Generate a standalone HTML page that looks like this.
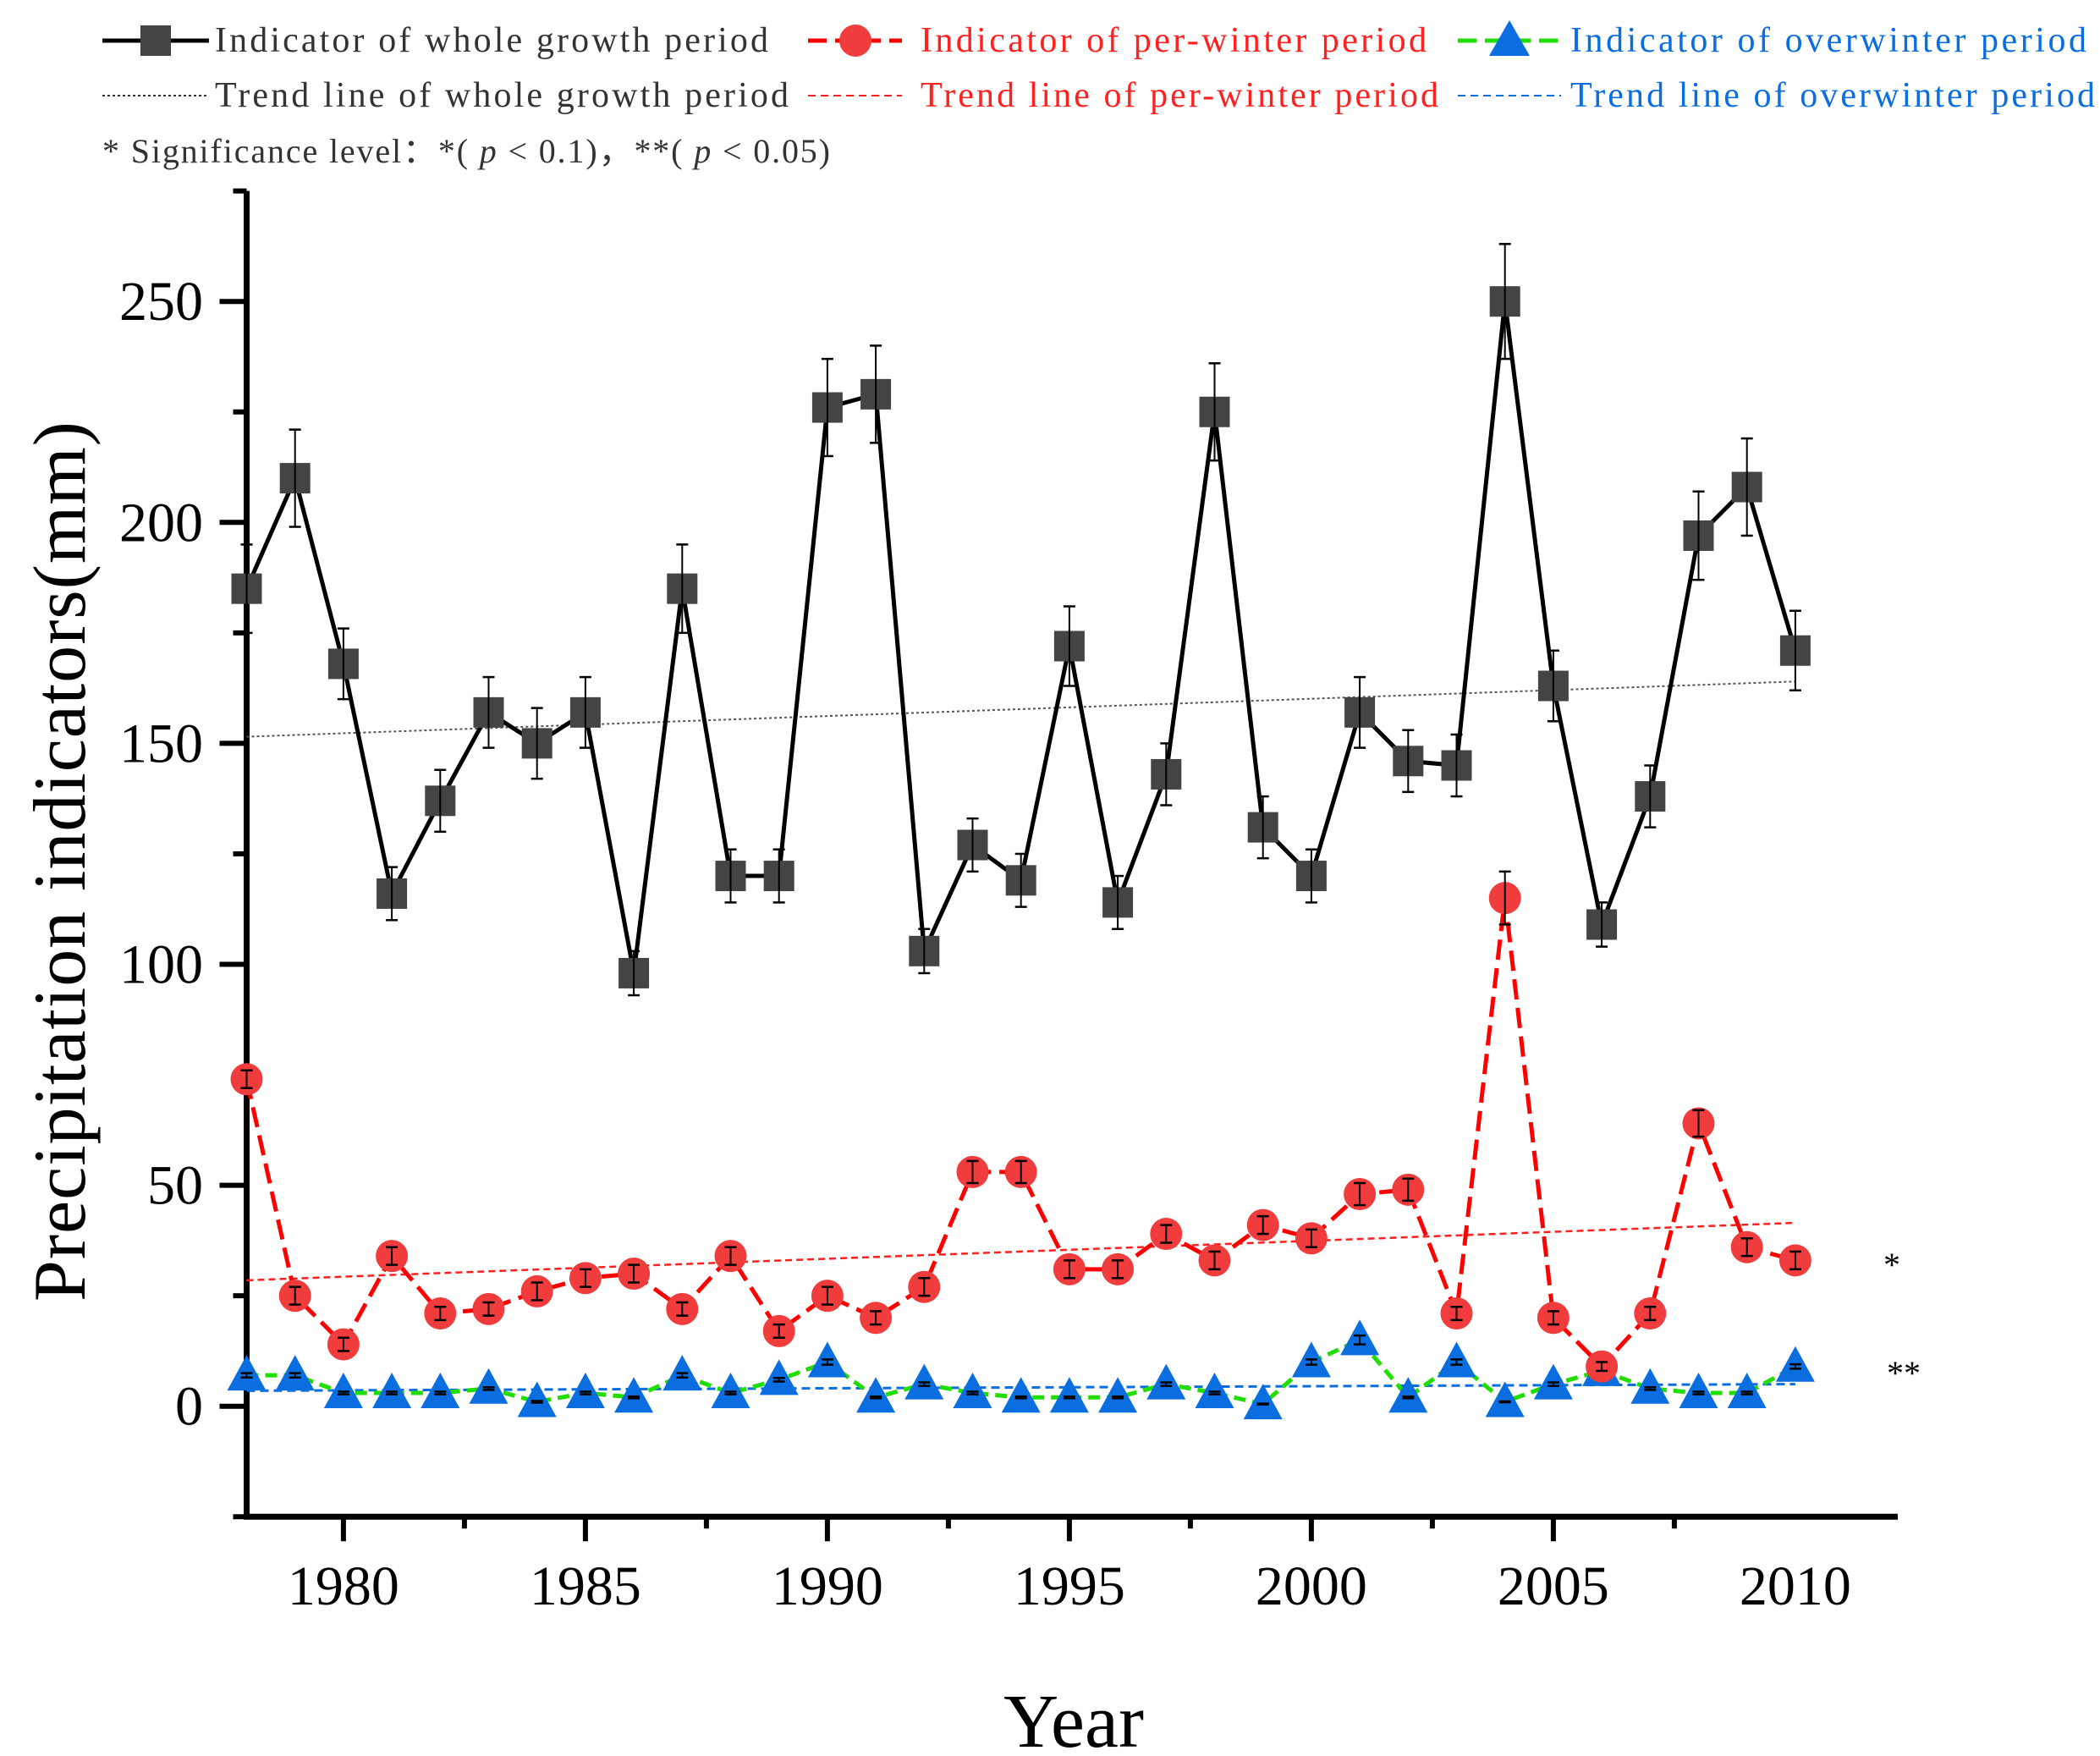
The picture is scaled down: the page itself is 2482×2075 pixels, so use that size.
<!DOCTYPE html>
<html><head><meta charset="utf-8"><style>
html,body{margin:0;padding:0;background:#fff}
svg{display:block;font-family:"Liberation Serif",serif}
</style></head><body>
<svg id="chart" width="2482" height="2075" viewBox="0 0 2482 2075" xmlns="http://www.w3.org/2000/svg">
<g id="legend">
 <g>
  <line x1="121" y1="48" x2="247" y2="48" stroke="#000" stroke-width="5"/>
  <rect x="166" y="30" width="36" height="36" fill="#444"/>
  <text x="254" y="61" font-size="42" fill="#333" textLength="654">Indicator of whole growth period</text>
 </g>
 <g>
  <line x1="955" y1="48" x2="1066" y2="48" stroke="#ff0000" stroke-width="5" stroke-dasharray="22,10"/>
  <circle cx="1011" cy="48" r="19" fill="#f03c3c"/>
  <text x="1088" y="61" font-size="42" fill="#ff2020" textLength="598">Indicator of  per-winter period</text>
 </g>
 <g>
  <line x1="1723" y1="48" x2="1845" y2="48" stroke="#22dd00" stroke-width="5" stroke-dasharray="22,10"/>
  <polygon points="1784,24 1808,66 1760,66" fill="#0a6ee0"/>
  <text x="1856" y="61" font-size="42" fill="#0a6ee0" textLength="610">Indicator of  overwinter period</text>
 </g>
 <g>
  <line x1="121" y1="113" x2="247" y2="113" stroke="#333" stroke-width="2" stroke-dasharray="3,3"/>
  <text x="254" y="126" font-size="42" fill="#333" textLength="678">Trend line of whole growth period</text>
 </g>
 <g>
  <line x1="955" y1="113" x2="1066" y2="113" stroke="#ff2020" stroke-width="2" stroke-dasharray="9,6"/>
  <text x="1088" y="126" font-size="42" fill="#ff2020" textLength="612">Trend line of per-winter period</text>
 </g>
 <g>
  <line x1="1723" y1="113" x2="1845" y2="113" stroke="#0a6ee0" stroke-width="2" stroke-dasharray="9,6"/>
  <text x="1856" y="126" font-size="42" fill="#0a6ee0" textLength="620">Trend line of overwinter period</text>
 </g>
 <text x="121" y="192" font-size="40" fill="#333" textLength="860">* Significance level：*( <tspan font-style="italic">p</tspan> &lt; 0.1)，**( <tspan font-style="italic">p</tspan> &lt; 0.05)</text>
</g>
<g id="plot"></g>
<text transform="translate(100,1018) rotate(-90)" text-anchor="middle" font-size="88" fill="#000" textLength="1040">Precipitation indicators(mm)</text>
<text x="1269" y="2064" text-anchor="middle" font-size="90" fill="#000">Year</text>
<text x="2236" y="1508" text-anchor="middle" font-size="40" fill="#000">*</text>
<text x="2250" y="1636" text-anchor="middle" font-size="40" fill="#000">**</text>
</svg>
<script>
const years = [1978,1979,1980,1981,1982,1983,1984,1985,1986,1987,1988,1989,1990,1991,1992,1993,1994,1995,1996,1997,1998,1999,2000,2001,2002,2003,2004,2005,2006,2007,2008,2009,2010];
const wholeValues = [185,210,168,116,137,157,150,157,98,185,120,120,226,229,103,127,119,172,114,143,225,131,120,157,146,145,250,163,109,138,197,208,171];
const wholeErrors = [10,11,8,6,7,8,8,8,5,10,6,6,11,11,5,6,6,9,6,7,11,7,6,8,7,7,13,8,5,7,10,11,9];
const perWinterValues = [74,25,14,34,21,22,26,29,30,22,34,17,25,20,27,53,53,31,31,39,33,41,38,48,49,21,115,20,9,21,64,36,33];
const perWinterErrors = [2,2,1.5,2,1.5,1.5,2,2,2,1.5,2,1.5,2,1.5,2,2.5,2.5,2,2,2,2,2,2,2.5,2.5,1.5,6,1.5,1,1.5,3,2,2];
const overValues = [7,7,3,3,3,4,1,3,2,7,3,6,10,2,5,3,2,2,2,5,3,0.5,10,15,2,10,1,5,8,4,3,3,9];
const overErrors = [0.5,0.5,0.3,0.3,0.3,0.3,0.2,0.3,0.2,0.5,0.3,0.4,0.6,0.2,0.4,0.3,0.2,0.2,0.2,0.4,0.3,0.1,0.6,1,0.2,0.6,0.1,0.4,0.5,0.3,0.3,0.3,0.5];
const trendWhole = [151.5,164];
const trendPerWinter = [28.5,41.5];
const trendOver = [3.5,5];
const yTicks = [0,50,100,150,200,250];
const xTicks = [1980,1985,1990,1995,2000,2005,2010];

const NS='http://www.w3.org/2000/svg';
const X0=291.5, Y0=1661.7, PX=57.2, PY=261.1/50;
const xs = v => X0 + (v-1978)*PX;
const ys = v => Y0 - v*PY;
const plot=document.getElementById('plot');
function mk(tag, attrs, parent){const e=document.createElementNS(NS,tag);for(const k in attrs)e.setAttribute(k,attrs[k]);(parent||plot).appendChild(e);return e;}

let ax=mk('line',{x1:X0,y1:ys(275),x2:X0,y2:ys(-25)+3,stroke:'#000','stroke-width':7});


let bx=mk('line',{x1:X0-3.5,y1:ys(-25),x2:2243,y2:ys(-25),stroke:'#000','stroke-width':7});


for(let v=-25; v<=275; v+=25){
  const maj = v%50===0;
  mk('line',{x1:X0-(maj?32:16),y1:ys(v),x2:X0,y2:ys(v),stroke:'#000','stroke-width':6});
}
yTicks.forEach(v=>{
  const t=mk('text',{x:240,y:ys(v)+22,'text-anchor':'end','font-size':66,fill:'#000'});
  t.textContent=v;
  
  
});
for(let h=0; h<=12; h++){
  const yr=1977.5+h*2.5;
  if(yr<1978) continue;
  const maj = Math.abs(yr%5)<1e-6;
  mk('line',{x1:xs(yr),y1:ys(-25),x2:xs(yr),y2:ys(-25)+(maj?29:14),stroke:'#000','stroke-width':6});
}
xTicks.forEach(v=>{
  const t=mk('text',{x:xs(v),y:1896,'text-anchor':'middle','font-size':66,fill:'#000'});
  t.textContent=v;
  
  
});

function trend(tv,color,dash,w,name){
  const l=mk('line',{x1:xs(years[0]),y1:ys(tv[0]),x2:xs(years[years.length-1]),y2:ys(tv[1]),stroke:color,'stroke-width':w,'stroke-dasharray':dash});
  
  
}
trend(trendWhole,'#555','3,3',2,'trend-line-whole');
trend(trendPerWinter,'#ff2020','8,5',2.5,'trend-line-perwinter');
trend(trendOver,'#0a6ee0','10,6',3,'trend-line-overwinter');

function series(vals,errs,color,dash,marker,mcolor,name,lw){
  const g=mk('g',{});
  
  
  const pts=vals.map((v,i)=>xs(years[i])+','+ys(v)).join(' ');
  const pl=mk('polyline',{points:pts,fill:'none',stroke:color,'stroke-width':lw,'stroke-dasharray':dash},g);
  
  
  vals.forEach((v,i)=>{
    const x=xs(years[i]), y=ys(v);
    let m;
    if(marker==='square') m=mk('rect',{x:x-18,y:y-18,width:36,height:36,fill:mcolor},g);
    else if(marker==='circle') m=mk('circle',{cx:x,cy:y,r:19,fill:mcolor},g);
    else m=mk('polygon',{points:`${x},${y-24} ${x+23},${y+18} ${x-23},${y+18}`,fill:mcolor},g);
    
    
    const e=errs[i], t=ys(v+e), b=ys(v-e);
    mk('line',{x1:x,y1:t,x2:x,y2:b,stroke:'#000','stroke-width':2},g);
    mk('line',{x1:x-7,y1:t,x2:x+7,y2:t,stroke:'#000','stroke-width':2.5},g);
    mk('line',{x1:x-7,y1:b,x2:x+7,y2:b,stroke:'#000','stroke-width':2.5},g);
  });
}
series(overValues,overErrors,'#22dd00','14,8','triangle','#0a6ee0','overwinter-series',5);
series(perWinterValues,perWinterErrors,'#ff0000','24,10','circle','#f03c3c','perwinter-series',5);
series(wholeValues,wholeErrors,'#000','none','square','#444','whole-growth-series',5);
</script>
</body></html>
